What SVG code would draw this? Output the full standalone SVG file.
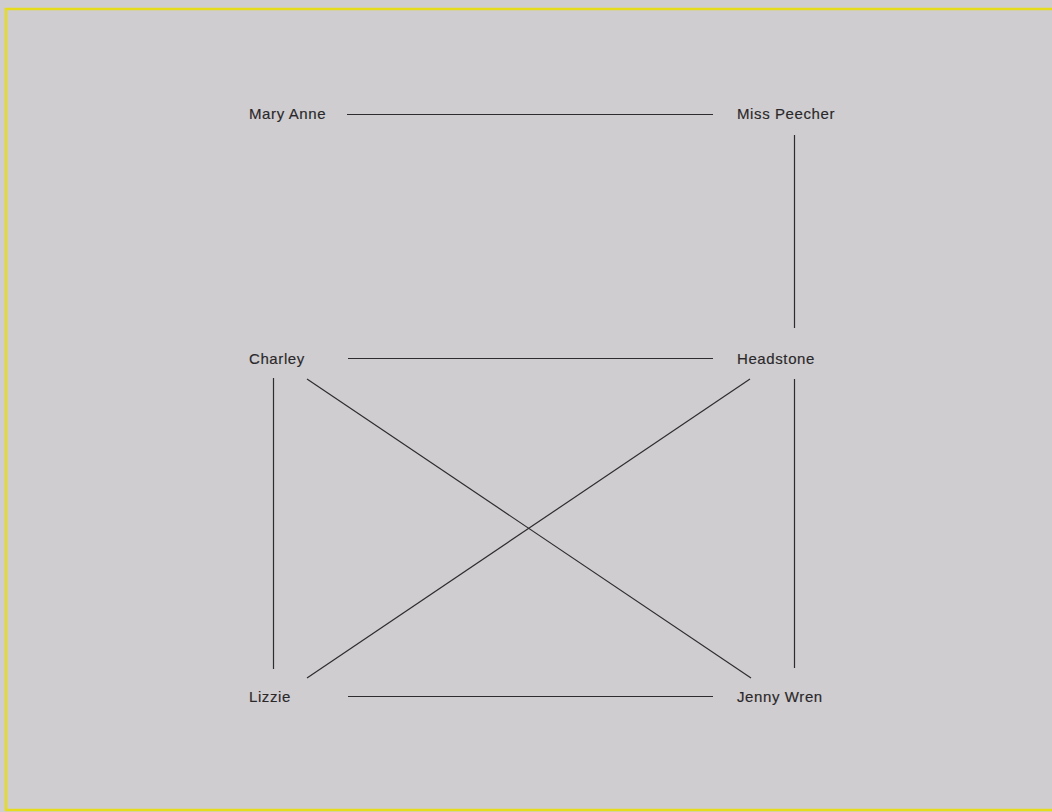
<svg xmlns="http://www.w3.org/2000/svg" width="1052" height="812" viewBox="0 0 1052 812">
<style>
.lbl{font-family:"Liberation Sans",Arial,sans-serif;font-size:15px;fill:#2a282a;letter-spacing:0.6px;stroke:#2a282a;stroke-width:0.15}
.edge{stroke:#2e2c2e;stroke-width:1.2;fill:none}
</style>
<rect width="1052" height="812" fill="#cfcdd0"/>
<rect x="6" y="9" width="1060" height="801" fill="none" stroke="#e6dc1c" stroke-width="2.5"/>
<g id="connectors">
<line class="edge" x1="347" y1="114.5" x2="713" y2="114.5"/>
<line class="edge" x1="794.5" y1="135" x2="794.5" y2="328"/>
<line class="edge" x1="348" y1="358.5" x2="713" y2="358.5"/>
<line class="edge" x1="273.5" y1="378" x2="273.5" y2="669"/>
<line class="edge" x1="794.5" y1="379" x2="794.5" y2="668"/>
<line class="edge" x1="348" y1="696.5" x2="713" y2="696.5"/>
<line class="edge" x1="307" y1="379" x2="751" y2="678"/>
<line class="edge" x1="750" y1="379" x2="307" y2="678"/>
</g>
<g id="mary-anne"><text class="lbl" x="249" y="119">Mary Anne</text></g>
<g id="miss-peecher"><text class="lbl" x="737" y="119">Miss Peecher</text></g>
<g id="charley"><text class="lbl" x="249" y="364">Charley</text></g>
<g id="headstone"><text class="lbl" x="737" y="364">Headstone</text></g>
<g id="lizzie"><text class="lbl" x="249" y="702">Lizzie</text></g>
<g id="jenny-wren"><text class="lbl" x="737" y="702">Jenny Wren</text></g>
</svg>
